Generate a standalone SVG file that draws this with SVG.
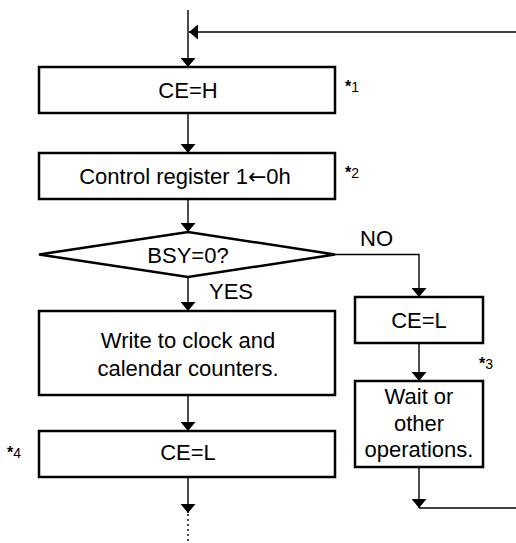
<svg xmlns="http://www.w3.org/2000/svg" width="516" height="543" viewBox="0 0 516 543">
<defs>
<style>
.box{fill:#fff;stroke:#000;stroke-width:2.5}
.ln{fill:none;stroke:#000;stroke-width:1.4}
.dot{fill:none;stroke:#000;stroke-width:1.4;stroke-dasharray:2 3}
.t{font-family:"Liberation Sans",Arial,sans-serif;font-size:22px;fill:#000;text-anchor:middle}
.l{font-family:"Liberation Sans",Arial,sans-serif;font-size:22px;fill:#000}
.n{font-family:"Liberation Sans",Arial,sans-serif;font-size:14px;fill:#000}
.s{font-weight:bold;font-size:16px}
.ar{font-family:"DejaVu Sans",sans-serif}
</style>
<marker id="ah" viewBox="0 0 10 10" refX="10" refY="5" markerWidth="9" markerHeight="15" markerUnits="userSpaceOnUse" orient="auto-start-reverse" preserveAspectRatio="none">
<path d="M0,0 L10,5 L0,10 Z" fill="#000"/>
</marker>
</defs>
<g id="connectors">
<path class="ln" d="M188,10 V67" marker-end="url(#ah)"/>
<path class="ln" d="M516,32 H189" marker-end="url(#ah)"/>
<path class="ln" d="M188,113 V153" marker-end="url(#ah)"/>
<path class="ln" d="M188,199 V232" marker-end="url(#ah)"/>
<path class="ln" d="M188,277 V311" marker-end="url(#ah)"/>
<path class="ln" d="M335,254.5 H419 V297" marker-end="url(#ah)"/>
<path class="ln" d="M419,343 V381" marker-end="url(#ah)"/>
<path class="ln" d="M419,467 V508" marker-end="url(#ah)"/>
<path class="ln" d="M419,508 H516"/>
<path class="ln" d="M188,395 V431" marker-end="url(#ah)"/>
<path class="ln" d="M188,477 V513" marker-end="url(#ah)"/>
<path class="dot" d="M188,514 V543"/>
</g>
<g id="ceh">
<rect class="box" x="39" y="67" width="296" height="46"/>
<text class="t" x="188" y="98">CE=H</text>
<text class="n" x="345" y="92"><tspan class="s">*</tspan>1</text>
</g>
<g id="ctrl">
<rect class="box" x="39" y="153" width="296" height="46"/>
<text class="t" x="185" y="184">Control register 1<tspan class="ar">←</tspan>0h</text>
<text class="n" x="345" y="178"><tspan class="s">*</tspan>2</text>
</g>
<g id="bsy">
<path class="box" d="M39,254.5 L188,232 L335,254.5 L188,277 Z"/>
<text class="t" x="188" y="263">BSY=0?</text>
<text class="l" x="360" y="246">NO</text>
<text class="l" x="209" y="299">YES</text>
</g>
<g id="write">
<rect class="box" x="39" y="311" width="296" height="84"/>
<text class="t" x="188" y="348">Write to clock and</text>
<text class="t" x="188" y="376">calendar counters.</text>
</g>
<g id="cel2">
<rect class="box" x="39" y="431" width="296" height="46"/>
<text class="t" x="188" y="460">CE=L</text>
<text class="n" x="7" y="458"><tspan class="s">*</tspan>4</text>
</g>
<g id="cel1">
<rect class="box" x="355" y="297" width="128" height="46"/>
<text class="t" x="419" y="328">CE=L</text>
</g>
<g id="wait">
<rect class="box" x="355" y="381" width="128" height="86"/>
<text class="t" x="419" y="404">Wait or</text>
<text class="t" x="419" y="431">other</text>
<text class="t" x="419" y="457">operations.</text>
<text class="n" x="479" y="369"><tspan class="s">*</tspan>3</text>
</g>
</svg>
